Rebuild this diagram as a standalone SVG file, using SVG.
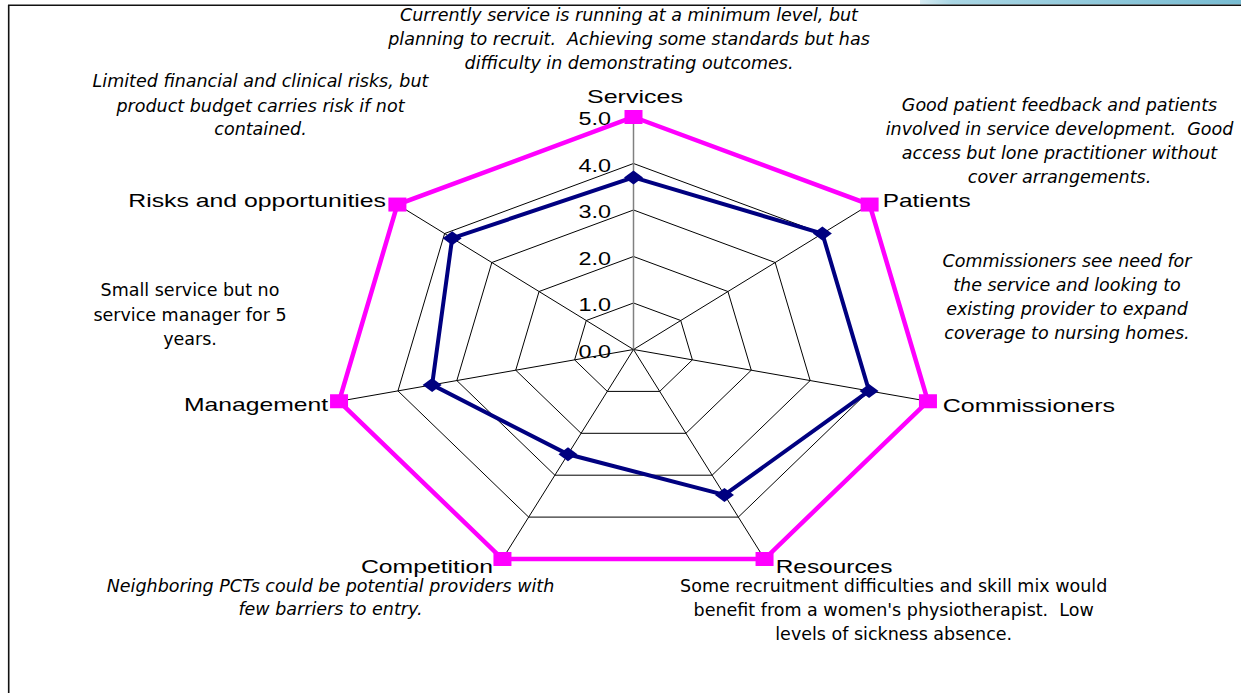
<svg xmlns="http://www.w3.org/2000/svg" width="1241" height="693" viewBox="0 0 1241 693">
<defs>
<linearGradient id="band" x1="0" y1="0" x2="1" y2="0">
<stop offset="0" stop-color="#d6ebf2"/>
<stop offset="0.1" stop-color="#a9d6e4"/>
<stop offset="1" stop-color="#78bcd2"/>
</linearGradient>
<style>
.grid{fill:none;stroke:#000;stroke-width:1}
.spoke{stroke:#000;stroke-width:1}
.vaxis{stroke:#808080;stroke-width:1.5}
.max{fill:none;stroke:#ff00ff;stroke-width:4.5;stroke-linejoin:miter}
.val{fill:none;stroke:#000080;stroke-width:4;stroke-linejoin:miter}
.sq{fill:#ff00ff}
.dia{fill:#000080}
.lbl{font-family:"Liberation Sans",Arial,sans-serif;font-size:19px;fill:#000}
.tick{font-family:"Liberation Sans",Arial,sans-serif;font-size:19px;fill:#000}
.note{font-family:"DejaVu Sans",Verdana,sans-serif;font-size:17.5px;font-style:italic;fill:#000;text-anchor:middle}
.plain{font-family:"DejaVu Sans",Verdana,sans-serif;font-size:17.5px;fill:#000;text-anchor:middle}
</style>
</defs>
<rect x="0" y="0" width="1241" height="693" fill="#fff"/>
<rect x="920" y="0" width="321" height="4.5" fill="url(#band)"/>
<line x1="8" y1="5.2" x2="1241" y2="5.2" stroke="#111" stroke-width="1.6"/>
<line x1="8.7" y1="5" x2="8.7" y2="693" stroke="#111" stroke-width="1.6"/>

<g id="grid">
<polygon class="grid" points="633.5,303 680.72,320.51 692.39,359.85 659.71,391.4 607.29,391.4 574.61,359.85 586.28,320.51"/>
<polygon class="grid" points="633.5,256.5 727.94,291.52 751.28,370.2 685.92,433.3 581.08,433.3 515.72,370.2 539.06,291.52"/>
<polygon class="grid" points="633.5,210 775.16,262.53 810.17,380.55 712.13,475.2 554.87,475.2 456.83,380.55 491.84,262.53"/>
<polygon class="grid" points="633.5,163.5 822.38,233.54 869.06,390.9 738.34,517.1 528.66,517.1 397.94,390.9 444.62,233.54"/>
<line class="spoke" x1="633.5" y1="349.5" x2="869.6" y2="204.55"/>
<line class="spoke" x1="633.5" y1="349.5" x2="927.95" y2="401.25"/>
<line class="spoke" x1="633.5" y1="349.5" x2="764.55" y2="559"/>
<line class="spoke" x1="633.5" y1="349.5" x2="502.45" y2="559"/>
<line class="spoke" x1="633.5" y1="349.5" x2="339.05" y2="401.25"/>
<line class="spoke" x1="633.5" y1="349.5" x2="397.4" y2="204.55"/>
<line class="vaxis" x1="633.5" y1="349.5" x2="633.5" y2="117"/>
</g>

<g id="ticks">
<text class="tick" x="578.5" y="125" textLength="32.5" lengthAdjust="spacingAndGlyphs">5.0</text>
<text class="tick" x="578.5" y="171.5" textLength="32.5" lengthAdjust="spacingAndGlyphs">4.0</text>
<text class="tick" x="578.5" y="218" textLength="32.5" lengthAdjust="spacingAndGlyphs">3.0</text>
<text class="tick" x="578.5" y="264.5" textLength="32.5" lengthAdjust="spacingAndGlyphs">2.0</text>
<text class="tick" x="578.5" y="311" textLength="32.5" lengthAdjust="spacingAndGlyphs">1.0</text>
<text class="tick" x="578.5" y="357.5" textLength="32.5" lengthAdjust="spacingAndGlyphs">0.0</text>
</g>

<g id="connectors">
<polygon class="max" points="633.5,117 869.6,204.55 927.95,401.25 764.55,559 502.45,559 339.05,401.25 397.4,204.55"/>
<polygon class="val" points="633.5,177.45 822.38,233.54 869.06,390.9 724.45,494.89 567.97,454.25 432.1,384.9 452.18,238.18"/>
</g>

<g id="services">
<rect class="sq" x="624.5" y="110" width="18" height="14"/>
<polygon class="dia" points="633.5,170.45 643,177.45 633.5,184.45 624,177.45"/>
<text class="lbl" x="587" y="103.3" textLength="96" lengthAdjust="spacingAndGlyphs">Services</text>
<text class="note" x="629" y="21">Currently service is running at a minimum level, but</text>
<text class="note" x="629" y="45" xml:space="preserve">planning to recruit.  Achieving some standards but has</text>
<text class="note" x="629" y="69">difficulty in demonstrating outcomes.</text>
</g>

<g id="patients">
<rect class="sq" x="860.6" y="197.55" width="18" height="14"/>
<polygon class="dia" points="822.38,226.54 831.88,233.54 822.38,240.54 812.88,233.54"/>
<text class="lbl" x="882.7" y="207" textLength="88" lengthAdjust="spacingAndGlyphs">Patients</text>
<text class="note" x="1059.5" y="111">Good patient feedback and patients</text>
<text class="note" x="1059.5" y="135" xml:space="preserve">involved in service development.  Good</text>
<text class="note" x="1059.5" y="159">access but lone practitioner without</text>
<text class="note" x="1059.5" y="183">cover arrangements.</text>
</g>

<g id="commissioners">
<rect class="sq" x="918.95" y="394.25" width="18" height="14"/>
<polygon class="dia" points="869.06,383.9 878.56,390.9 869.06,397.9 859.56,390.9"/>
<text class="lbl" x="942.7" y="411.7" textLength="172.3" lengthAdjust="spacingAndGlyphs">Commissioners</text>
<text class="note" x="1067" y="266.5">Commissioners see need for</text>
<text class="note" x="1067" y="290.5">the service and looking to</text>
<text class="note" x="1067" y="314.5">existing provider to expand</text>
<text class="note" x="1067" y="338.5">coverage to nursing homes.</text>
</g>

<g id="resources">
<rect class="sq" x="755.55" y="552" width="18" height="14"/>
<polygon class="dia" points="724.45,487.89 733.95,494.89 724.45,501.89 714.95,494.89"/>
<text class="lbl" x="775.7" y="573" textLength="116.7" lengthAdjust="spacingAndGlyphs">Resources</text>
<text class="plain" x="893.7" y="592.3">Some recruitment difficulties and skill mix would</text>
<text class="plain" x="893.7" y="616.3" xml:space="preserve">benefit from a women's physiotherapist.  Low</text>
<text class="plain" x="893.7" y="640.3">levels of sickness absence.</text>
</g>

<g id="competition">
<rect class="sq" x="493.45" y="552" width="18" height="14"/>
<polygon class="dia" points="567.97,447.25 577.47,454.25 567.97,461.25 558.47,454.25"/>
<text class="lbl" x="361" y="573" textLength="132" lengthAdjust="spacingAndGlyphs">Competition</text>
<text class="note" x="330.5" y="591.5">Neighboring PCTs could be potential providers with</text>
<text class="note" x="330.5" y="615">few barriers to entry.</text>
</g>

<g id="management">
<rect class="sq" x="330.05" y="394.25" width="18" height="14"/>
<polygon class="dia" points="432.1,377.9 441.6,384.9 432.1,391.9 422.6,384.9"/>
<text class="lbl" x="184" y="411" textLength="144" lengthAdjust="spacingAndGlyphs">Management</text>
<text class="plain" x="190" y="296">Small service but no</text>
<text class="plain" x="190" y="320.5">service manager for 5</text>
<text class="plain" x="190" y="344.5">years.</text>
</g>

<g id="risks">
<rect class="sq" x="388.4" y="197.55" width="18" height="14"/>
<polygon class="dia" points="452.18,231.18 461.68,238.18 452.18,245.18 442.68,238.18"/>
<text class="lbl" x="128.3" y="206.7" textLength="257.7" lengthAdjust="spacingAndGlyphs">Risks and opportunities</text>
<text class="note" x="260.5" y="87.3">Limited financial and clinical risks, but</text>
<text class="note" x="260.5" y="111.5">product budget carries risk if not</text>
<text class="note" x="260.5" y="135.3">contained.</text>
</g>
</svg>
